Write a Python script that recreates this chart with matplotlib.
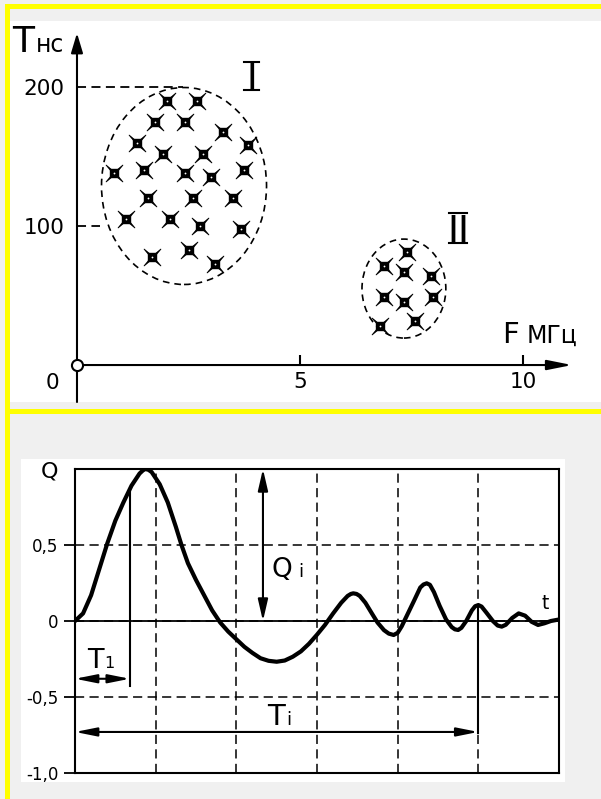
import matplotlib
matplotlib.use('Agg')
import matplotlib.pyplot as plt
from matplotlib.patches import Ellipse, Rectangle
from matplotlib.path import Path

plt.rcParams['font.family'] = ['DejaVu Sans']

# upper chart: two clusters (F, MHz ; T, ns)
f_cl1 = [2.02, 2.69, 1.75, 2.42, 3.27, 1.35, 1.93, 2.83, 3.83, 0.83, 1.50, 2.42,
         3.00, 3.74, 1.59, 2.60, 3.50, 1.10, 2.09, 2.76, 3.68, 1.68, 2.51, 3.09]
t_cl1 = [190, 190, 175, 175, 168, 160, 152, 152, 158, 138, 140, 138,
         135, 140, 120, 120, 120, 105, 105, 100, 98, 78, 83, 73]
f_cl2 = [7.40, 6.88, 7.33, 7.94, 6.88, 7.33, 7.98, 7.58, 6.79]
t_cl2 = [81, 71, 67, 64, 49, 45, 49, 32, 28]
x_ticks = [5, 10]
y_ticks = [100, 200]

# lower chart: transient response Q(t)
t_vals = [0, 0.1, 0.2, 0.3, 0.4, 0.5, 0.6, 0.7, 0.8, 0.84, 0.87, 0.91, 0.95, 1.05, 1.15, 1.25,
          1.32, 1.4, 1.5, 1.6, 1.7, 1.8, 1.9, 2.0, 2.1, 2.2, 2.3, 2.4, 2.5, 2.6,
          2.7, 2.8, 2.9, 3.0, 3.1, 3.2, 3.3, 3.38, 3.42, 3.45, 3.49, 3.53, 3.6, 3.68, 3.75,
          3.83, 3.89, 3.95, 4.0, 4.05, 4.1, 4.2, 4.28, 4.32, 4.36, 4.4, 4.45, 4.52, 4.6, 4.67, 4.71,
          4.75, 4.79, 4.85, 4.92, 4.96, 5.0, 5.04, 5.1, 5.18, 5.24, 5.29, 5.34, 5.42, 5.5, 5.58,
          5.66, 5.74, 5.82, 5.9, 6.0]
q_vals = [0, 0.05, 0.17, 0.34, 0.51, 0.66, 0.78, 0.89, 0.97, 0.99, 1.0, 0.995, 0.98, 0.9, 0.78, 0.62,
          0.5, 0.38, 0.27, 0.17, 0.07, -0.01, -0.07, -0.12, -0.17, -0.21, -0.245, -0.262, -0.268, -0.26,
          -0.235, -0.2, -0.15, -0.09, -0.025, 0.05, 0.12, 0.165, 0.178, 0.182, 0.178, 0.165, 0.12, 0.05, -0.01,
          -0.06, -0.083, -0.092, -0.078, -0.035, 0.02, 0.13, 0.22, 0.24, 0.248, 0.238, 0.19, 0.1, 0.01, -0.04, -0.055,
          -0.059, -0.045, 0.0, 0.07, 0.097, 0.105, 0.095, 0.055, 0.0, -0.03, -0.037, -0.025, 0.02, 0.05, 0.035,
          -0.005, -0.026, -0.015, 0.0, 0.01]
q_ticks = [1, 0.5, 0, -0.5, -1]
q_labels = ['Q', '0,5', '0', '-0,5', '-1,0']
t1_mark = 0.68
ti_mark = 5.0
qi_mark = 2.33

W, H = 601, 799
def fr(x0, y0, x1, y1):
    return [x0 / W, 1 - y1 / H, (x1 - x0) / W, (y1 - y0) / H]

fig = plt.figure(figsize=(W / 100, H / 100), dpi=100, facecolor='#f0f0f0')

# yellow frame and white panel backgrounds
for r, c in [((5, 4, 601, 9), '#ffff00'), ((5, 4, 10, 799), '#ffff00'),
             ((5, 409, 601, 414), '#ffff00'), ((21, 459, 565, 782), 'white')]:
    x, y, w, h = fr(*r)
    fig.add_artist(Rectangle((x, y), w, h, transform=fig.transFigure, color=c, lw=0, zorder=0))

# ---------- upper chart ----------
ax1 = fig.add_axes(fr(10, 21, 601, 402))
ax1.set_facecolor('white')
ax1.set_xlim(-1.502, 11.749)
ax1.set_ylim(-26.6, 247.5)
for s in ax1.spines.values():
    s.set_visible(False)
ax1.spines['left'].set_position(('data', 0))
ax1.spines['bottom'].set_position(('data', 0))
ax1.set_xticks(x_ticks)
ax1.set_xticklabels([str(v) for v in x_ticks], fontsize=15.5)
ax1.tick_params(axis='x', direction='in', length=7, width=1.5, pad=5)
ax1.set_yticks(y_ticks)
ax1.set_yticklabels([str(v) for v in y_ticks], fontsize=15.5)
ax1.tick_params(axis='y', length=0, pad=9)

arr = dict(color='k', lw=1.5, shrinkA=0, shrinkB=0, mutation_scale=20)
ax1.annotate('', xy=(0, 238.8), xytext=(0, -26.6),
             arrowprops=dict(arrowstyle='-|>,head_length=0.6,head_width=0.18', **arr))
ax1.annotate('', xy=(11.1, 0), xytext=(0, 0),
             arrowprops=dict(arrowstyle='-|>,head_length=0.75,head_width=0.15', **arr))
ax1.plot(0, 0, 'o', mfc='white', mec='k', ms=8, mew=1.5, zorder=5)
ax1.text(-0.56, -12.9, '0', fontsize=15.5, ha='center', va='center')

ax1.plot([0, 2.38], [200, 200], color='k', lw=1.3, ls=(0, (5, 3)))
ax1.plot([0, 0.52], [100, 100], color='k', lw=1.3, ls=(0, (5, 3)))
ax1.add_patch(Ellipse((2.40, 128.8), 3.70, 141.7, fill=False, ec='k', lw=1.2, ls=(0, (4, 3))))
ax1.add_patch(Ellipse((7.33, 55.0), 1.88, 71.2, fill=False, ec='k', lw=1.2, ls=(0, (4, 3))))

# four-pointed star marker
w = 0.16
star = Path([(1, 1), (w, 0), (1, -1), (0, -w), (-1, -1), (-w, 0), (-1, 1), (0, w), (1, 1)],
            [Path.MOVETO] + [Path.LINETO] * 7 + [Path.CLOSEPOLY])
for fx, ty in [(f_cl1, t_cl1), (f_cl2, t_cl2)]:
    ax1.plot(fx, ty, ls='none', marker=star, ms=12, color='k', mew=0.7)
    ax1.plot(fx, ty, ls='none', marker='s', ms=5.5, color='k')
    ax1.plot(fx, ty, ls='none', marker='o', ms=1.3, color='white', mew=0)

ax1.text(-1.46, 225, 'T', fontsize=26, ha='left', va='baseline')
ax1.text(-0.93, 225, 'нс', fontsize=17, ha='left', va='baseline')
ax1.text(9.53, 15.8, 'F', fontsize=21, ha='left', va='baseline')
ax1.text(10.08, 15.8, 'МГц', fontsize=17, ha='left', va='baseline')

# roman numerals with bars
ax1.text(3.91, 198.6, 'I', fontsize=26, ha='center', va='baseline')
ax1.plot([3.74, 4.08], [218, 218], color='k', lw=1.5)
ax1.plot([3.74, 4.08], [197.8, 197.8], color='k', lw=1.5)
ax1.text(8.54, 88.5, 'II', fontsize=27, ha='center', va='baseline')
ax1.plot([8.33, 8.75], [109.4, 109.4], color='k', lw=1.5)
ax1.plot([8.33, 8.75], [87.8, 87.8], color='k', lw=1.5)

# ---------- lower chart ----------
ax2 = fig.add_axes(fr(75, 469, 559, 773))
ax2.set_facecolor('white')
ax2.set_xlim(0, 6)
ax2.set_ylim(-1, 1)
for s in ax2.spines.values():
    s.set_linewidth(1.5)
ax2.set_xticks([1, 2, 3, 4, 5])
ax2.set_xticklabels([])
ax2.tick_params(axis='x', length=0)
ax2.set_yticks(q_ticks)
ax2.set_yticklabels(q_labels, fontsize=12)
ax2.tick_params(axis='y', length=8, width=1.3, pad=4)
ax2.get_yticklabels()[0].set_fontsize(16)
ax2.yaxis.get_major_ticks()[0].tick1line.set_visible(False)
ax2.grid(True, color='k', lw=1.1, ls=(0, (6, 3.5)))
ax2.axhline(0, color='k', lw=1.3)

ax2.plot(t_vals, q_vals, color='k', lw=3, solid_joinstyle='round', zorder=4)

ax2.plot([t1_mark, t1_mark], [0.85, -0.43], color='k', lw=1.5)
ax2.plot([ti_mark, ti_mark], [0.105, -0.74], color='k', lw=1.5)
ax2.annotate('', xy=(0, -0.38), xytext=(t1_mark, -0.38),
             arrowprops=dict(arrowstyle='<|-|>,head_length=0.65,head_width=0.13', **arr))
ax2.annotate('', xy=(0, -0.73), xytext=(ti_mark, -0.73),
             arrowprops=dict(arrowstyle='<|-|>,head_length=0.65,head_width=0.13', **arr))
ax2.annotate('', xy=(qi_mark, 1), xytext=(qi_mark, 0),
             arrowprops=dict(arrowstyle='<|-|>,head_length=0.65,head_width=0.15', **arr))

ax2.text(0.15, -0.31, 'T', fontsize=19.5, ha='left', va='baseline')
ax2.text(0.36, -0.31, '1', fontsize=11.5, ha='left', va='baseline')
ax2.text(2.38, -0.684, 'T', fontsize=21, ha='left', va='baseline')
ax2.text(2.62, -0.684, 'i', fontsize=13, ha='left', va='baseline')
ax2.text(2.44, 0.29, 'Q', fontsize=19, ha='left', va='baseline')
ax2.text(2.77, 0.29, 'i', fontsize=13, ha='left', va='baseline')
ax2.text(5.83, 0.079, 't', fontsize=13.5, ha='center', va='baseline')

fig.savefig('out.png', dpi=100, facecolor=fig.get_facecolor())
